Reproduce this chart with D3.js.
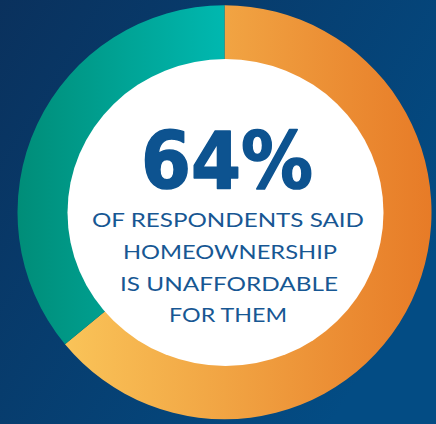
<!DOCTYPE html>
<html><head><meta charset="utf-8">
<script src="https://cdn.jsdelivr.net/npm/d3@7"></script>
<style>html,body{margin:0;padding:0;overflow:hidden;background:#073d6e}</style>
</head><body><svg id="c" width="436" height="424"></svg>
<script>
const categories = ["Unaffordable", "Other"];
const values = [64, 36];
const headline = "64%";
const lines = ["OF RESPONDENTS SAID", "HOMEOWNERSHIP", "IS UNAFFORDABLE", "FOR THEM"];

const W = 436, H = 424;
const svg = d3.select("#c");
const defs = svg.append("defs");

const bg = defs.append("linearGradient").attr("id","bg").attr("x1","0").attr("y1","0").attr("x2","1").attr("y2","0.6");
bg.append("stop").attr("offset","0").attr("stop-color","#0a315d");
bg.append("stop").attr("offset","1").attr("stop-color","#034c84");
svg.append("rect").attr("width",W).attr("height",H).attr("fill","url(#bg)");

const cx = 224.5, cy = 212.3, rOuter = 207, rInner = 148;

const gO = defs.append("linearGradient").attr("id","gO").attr("gradientUnits","userSpaceOnUse")
  .attr("x1", -rOuter).attr("y1",0).attr("x2", rOuter).attr("y2",0);
gO.append("stop").attr("offset","0").attr("stop-color","#fccd5f");
gO.append("stop").attr("offset","0.5").attr("stop-color","#f1a443");
gO.append("stop").attr("offset","1").attr("stop-color","#e77b27");

const gT = defs.append("linearGradient").attr("id","gT").attr("gradientUnits","userSpaceOnUse")
  .attr("x1", -rOuter).attr("y1",0).attr("x2", 0).attr("y2",0);
gT.append("stop").attr("offset","0").attr("stop-color","#008d78");
gT.append("stop").attr("offset","1").attr("stop-color","#00b8b0");

const fills = ["url(#gO)", "url(#gT)"];
const pie = d3.pie().sort(null).value(d => d)(values);
const arc = d3.arc().innerRadius(rInner).outerRadius(rOuter);
const g = svg.append("g").attr("transform", `translate(${cx},${cy})`);
g.selectAll("path").data(pie).join("path")
  .attr("d", arc).attr("fill", (d,i) => fills[i]);

svg.append("ellipse").attr("cx",225.5).attr("cy",212.5).attr("rx",158).attr("ry",153.5).attr("fill","#ffffff");

svg.append("text").attr("x",227).attr("y",188).attr("text-anchor","middle")
  .attr("font-family","'DejaVu Sans', sans-serif").attr("font-weight","bold")
  .attr("font-size",78).attr("fill","#0d5390")
  .attr("stroke","#0d5390").attr("stroke-width",1.6).attr("stroke-linejoin","round")
  .attr("textLength",172).attr("lengthAdjust","spacingAndGlyphs").text(headline);

const widths = [272, 214, 218, 118];
const baselines = [226.7, 258.5, 290.7, 321.7];
const xs = [228, 230, 229, 228];
svg.selectAll("text.sub").data(lines).join("text").attr("class","sub")
  .attr("x",(d,i)=>xs[i]).attr("y",(d,i)=>baselines[i]).attr("text-anchor","middle")
  .attr("font-family","Lato, 'Open Sans', sans-serif").attr("font-weight","400")
  .attr("font-size",19.5).attr("fill","#175793")
  .attr("textLength",(d,i)=>widths[i]).attr("lengthAdjust","spacingAndGlyphs")
  .text(d=>d);
</script></body></html>
